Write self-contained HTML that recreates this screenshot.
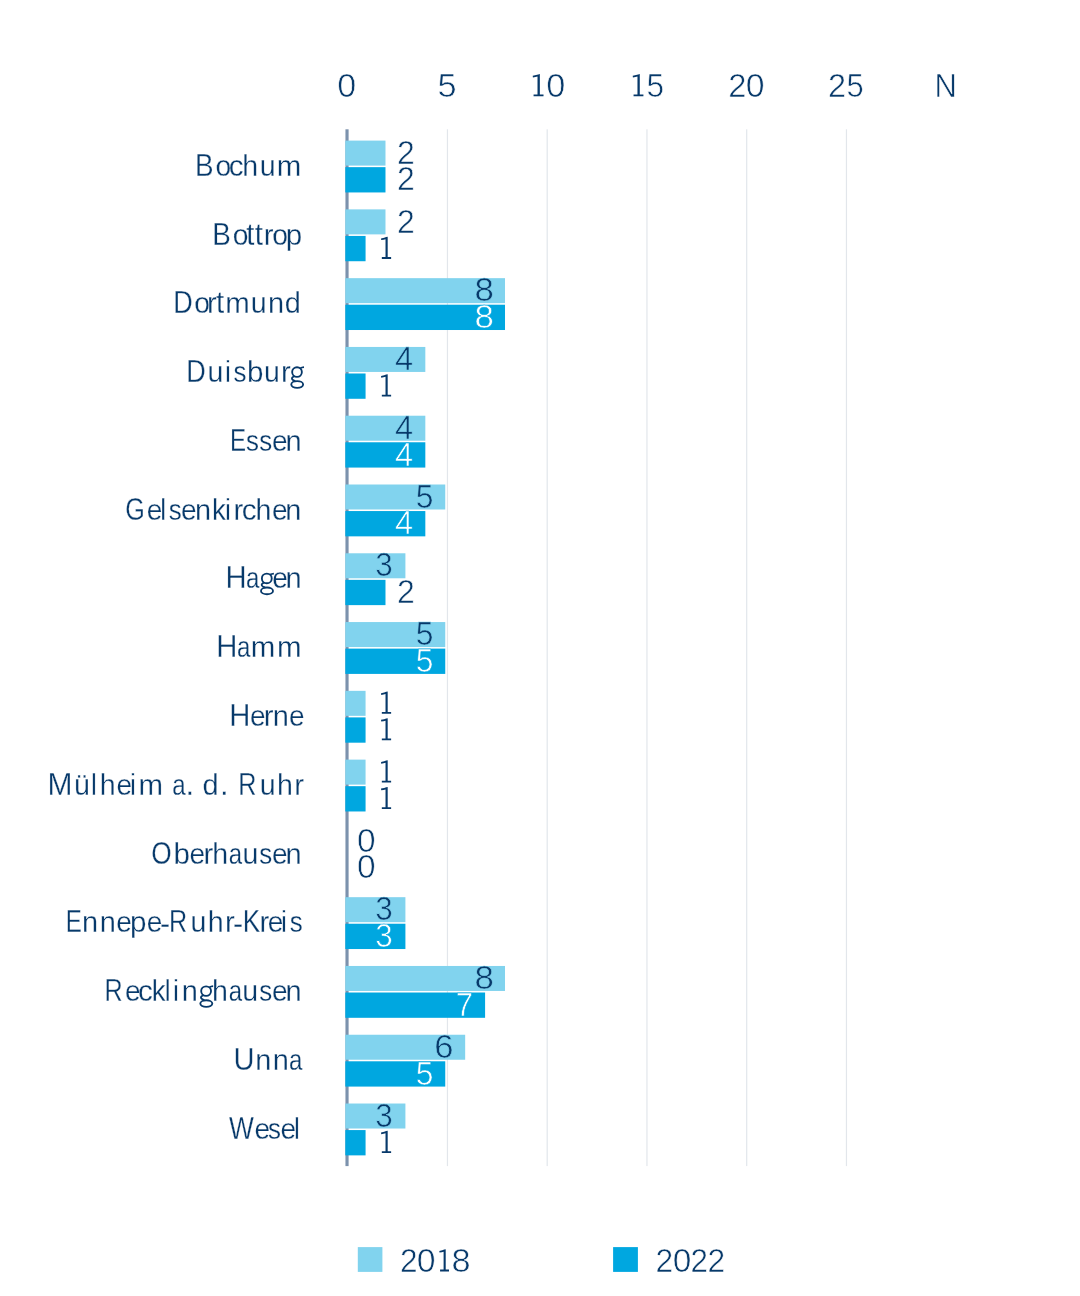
<!DOCTYPE html>
<html><head><meta charset="utf-8"><title>Chart</title>
<style>
html,body{margin:0;padding:0;background:#fff;}
body{width:1080px;height:1296px;overflow:hidden;}
svg{display:block;}
text{font-family:"Liberation Sans",sans-serif;font-kerning:none;paint-order:fill stroke;stroke-linejoin:round;}
</style></head><body>
<svg width="1080" height="1296" viewBox="0 0 1080 1296">
<rect width="1080" height="1296" fill="#ffffff"/>
<rect x="446.85" y="129.3" width="1.2" height="1036.8" fill="#e2e6eb"/>
<rect x="546.60" y="129.3" width="1.2" height="1036.8" fill="#e2e6eb"/>
<rect x="646.35" y="129.3" width="1.2" height="1036.8" fill="#e2e6eb"/>
<rect x="746.10" y="129.3" width="1.2" height="1036.8" fill="#e2e6eb"/>
<rect x="845.85" y="129.3" width="1.2" height="1036.8" fill="#e2e6eb"/>
<rect x="345.45" y="129.3" width="3.15" height="1036.8" fill="#7c92ad"/>
<rect x="345.30" y="140.60" width="40.19" height="25.0" fill="#81d3ee"/>
<rect x="345.30" y="167.15" width="40.19" height="25.3" fill="#00a7e0"/>
<rect x="345.30" y="209.38" width="40.19" height="25.0" fill="#81d3ee"/>
<rect x="345.30" y="235.93" width="20.27" height="25.3" fill="#00a7e0"/>
<rect x="345.30" y="278.16" width="159.71" height="25.0" fill="#81d3ee"/>
<rect x="345.30" y="304.71" width="159.71" height="25.3" fill="#00a7e0"/>
<rect x="345.30" y="346.94" width="80.03" height="25.0" fill="#81d3ee"/>
<rect x="345.30" y="373.49" width="20.27" height="25.3" fill="#00a7e0"/>
<rect x="345.30" y="415.72" width="80.03" height="25.0" fill="#81d3ee"/>
<rect x="345.30" y="442.27" width="80.03" height="25.3" fill="#00a7e0"/>
<rect x="345.30" y="484.50" width="99.95" height="25.0" fill="#81d3ee"/>
<rect x="345.30" y="511.05" width="80.03" height="25.3" fill="#00a7e0"/>
<rect x="345.30" y="553.28" width="60.11" height="25.0" fill="#81d3ee"/>
<rect x="345.30" y="579.83" width="40.19" height="25.3" fill="#00a7e0"/>
<rect x="345.30" y="622.06" width="99.95" height="25.0" fill="#81d3ee"/>
<rect x="345.30" y="648.61" width="99.95" height="25.3" fill="#00a7e0"/>
<rect x="345.30" y="690.84" width="20.27" height="25.0" fill="#81d3ee"/>
<rect x="345.30" y="717.39" width="20.27" height="25.3" fill="#00a7e0"/>
<rect x="345.30" y="759.62" width="20.27" height="25.0" fill="#81d3ee"/>
<rect x="345.30" y="786.17" width="20.27" height="25.3" fill="#00a7e0"/>
<rect x="345.30" y="897.18" width="60.11" height="25.0" fill="#81d3ee"/>
<rect x="345.30" y="923.73" width="60.11" height="25.3" fill="#00a7e0"/>
<rect x="345.30" y="965.96" width="159.71" height="25.0" fill="#81d3ee"/>
<rect x="345.30" y="992.51" width="139.79" height="25.3" fill="#00a7e0"/>
<rect x="345.30" y="1034.74" width="119.87" height="25.0" fill="#81d3ee"/>
<rect x="345.30" y="1061.29" width="99.95" height="25.3" fill="#00a7e0"/>
<rect x="345.30" y="1103.52" width="60.11" height="25.0" fill="#81d3ee"/>
<rect x="345.30" y="1130.07" width="20.27" height="25.3" fill="#00a7e0"/>
<rect x="357.8" y="1247.1" width="24.6" height="24.8" fill="#81d3ee"/>
<rect x="613.1" y="1247.1" width="24.8" height="24.8" fill="#00a7e0"/>
<g opacity="0.999">
<text transform="matrix(0.8681 0 0 1.0 194.89 175.75)" font-size="32.12" fill="#07396a" stroke="#ffffff" stroke-width="0.3">B</text>
<text transform="matrix(0.8812 0 0 0.92 215.43 175.75)" font-size="32.12" fill="#07396a" stroke="#ffffff" stroke-width="0.3">o</text>
<text transform="matrix(0.9236 0 0 0.92 228.74 175.75)" font-size="32.12" fill="#07396a" stroke="#ffffff" stroke-width="0.3">c</text>
<text transform="matrix(0.8885 0 0 0.94 242.25 175.75)" font-size="32.12" fill="#07396a" stroke="#ffffff" stroke-width="0.3">h</text>
<text transform="matrix(0.8879 0 0 0.92 259.84 175.75)" font-size="32.12" fill="#07396a" stroke="#ffffff" stroke-width="0.3">u</text>
<text transform="matrix(0.9171 0 0 0.92 276.67 175.75)" font-size="32.12" fill="#07396a" stroke="#ffffff" stroke-width="0.3">m</text>
<text transform="matrix(0.9801 0 0 1 396.88 163.75)" font-size="32.7" fill="#07396a" stroke="#ffffff" stroke-width="0.6">2</text>
<text transform="matrix(0.9801 0 0 1 396.88 190.40)" font-size="32.7" fill="#07396a" stroke="#ffffff" stroke-width="0.6">2</text>
<text transform="matrix(0.8681 0 0 1.0 212.29 244.53)" font-size="32.12" fill="#07396a" stroke="#ffffff" stroke-width="0.3">B</text>
<text transform="matrix(0.8812 0 0 0.92 232.78 244.53)" font-size="32.12" fill="#07396a" stroke="#ffffff" stroke-width="0.3">o</text>
<text transform="matrix(0.9131 0 0 1.0 246.21 244.53)" font-size="32.12" fill="#07396a" stroke="#ffffff" stroke-width="0.3">t</text>
<text transform="matrix(0.9131 0 0 1.0 254.71 244.53)" font-size="32.12" fill="#07396a" stroke="#ffffff" stroke-width="0.3">t</text>
<text transform="matrix(0.9141 0 0 0.92 263.73 244.53)" font-size="32.12" fill="#07396a" stroke="#ffffff" stroke-width="0.3">r</text>
<text transform="matrix(0.8812 0 0 0.92 272.13 244.53)" font-size="32.12" fill="#07396a" stroke="#ffffff" stroke-width="0.3">o</text>
<text transform="matrix(0.9201 0 0 0.92 285.65 244.53)" font-size="32.12" fill="#07396a" stroke="#ffffff" stroke-width="0.3">p</text>
<text transform="matrix(0.9801 0 0 1 396.88 232.53)" font-size="32.7" fill="#07396a" stroke="#ffffff" stroke-width="0.6">2</text>
<path d="M381.02,238.38 L384.15,237.68 L386.17,236.98 L387.69,236.68 L387.69,257.08 L391.12,257.08 L391.12,258.88 L381.83,258.88 L381.83,257.08 L385.52,257.08 L385.52,239.18 L383.55,239.68 L381.22,240.08Z" fill="#07396a"/>
<text transform="matrix(0.8418 0 0 1.0 173.32 313.31)" font-size="32.12" fill="#07396a" stroke="#ffffff" stroke-width="0.3">D</text>
<text transform="matrix(0.8812 0 0 0.92 194.30 313.31)" font-size="32.12" fill="#07396a" stroke="#ffffff" stroke-width="0.3">o</text>
<text transform="matrix(0.9141 0 0 0.92 206.98 313.31)" font-size="32.12" fill="#07396a" stroke="#ffffff" stroke-width="0.3">r</text>
<text transform="matrix(0.9131 0 0 1.0 215.94 313.31)" font-size="32.12" fill="#07396a" stroke="#ffffff" stroke-width="0.3">t</text>
<text transform="matrix(0.9171 0 0 0.92 225.22 313.31)" font-size="32.12" fill="#07396a" stroke="#ffffff" stroke-width="0.3">m</text>
<text transform="matrix(0.8879 0 0 0.92 250.84 313.31)" font-size="32.12" fill="#07396a" stroke="#ffffff" stroke-width="0.3">u</text>
<text transform="matrix(0.9007 0 0 0.92 267.88 313.31)" font-size="32.12" fill="#07396a" stroke="#ffffff" stroke-width="0.3">n</text>
<text transform="matrix(0.9010 0 0 0.94 284.78 313.31)" font-size="32.12" fill="#07396a" stroke="#ffffff" stroke-width="0.3">d</text>
<text transform="matrix(1.0688 0 0 1 474.49 301.31)" font-size="32.7" fill="#07396a" stroke="#81d3ee" stroke-width="0.6">8</text>
<text transform="matrix(1.0688 0 0 1 474.49 327.96)" font-size="32.7" fill="#ffffff" stroke="#00a7e0" stroke-width="0.6">8</text>
<text transform="matrix(0.8418 0 0 1.0 186.35 382.09)" font-size="32.12" fill="#07396a" stroke="#ffffff" stroke-width="0.3">D</text>
<text transform="matrix(0.8879 0 0 0.92 207.42 382.09)" font-size="32.12" fill="#07396a" stroke="#ffffff" stroke-width="0.3">u</text>
<text transform="matrix(0.8289 0 0 0.94 225.00 382.09)" font-size="32.12" fill="#07396a" stroke="#ffffff" stroke-width="0.3">i</text>
<text transform="matrix(0.8079 0 0 0.92 233.42 382.09)" font-size="32.12" fill="#07396a" stroke="#ffffff" stroke-width="0.3">s</text>
<text transform="matrix(0.9201 0 0 0.94 246.95 382.09)" font-size="32.12" fill="#07396a" stroke="#ffffff" stroke-width="0.3">b</text>
<text transform="matrix(0.8879 0 0 0.92 264.04 382.09)" font-size="32.12" fill="#07396a" stroke="#ffffff" stroke-width="0.3">u</text>
<text transform="matrix(0.9141 0 0 0.92 281.08 382.09)" font-size="32.12" fill="#07396a" stroke="#ffffff" stroke-width="0.3">r</text>
<g fill="none" stroke="#07396a" stroke-linecap="butt"><ellipse cx="297.01" cy="372.09" rx="4.86" ry="4.8" stroke-width="1.85"/><path d="M300.31,368.24 Q301.77,367.34 304.00,367.19" stroke-width="1.7"/><path d="M294.48,376.04 Q291.17,377.64 292.15,379.24 Q292.83,380.44 295.35,381.14" stroke-width="1.8"/><ellipse cx="297.20" cy="384.54" rx="5.93" ry="3.35" stroke-width="1.85"/></g>
<text transform="matrix(0.9953 0 0 1 395.08 370.09)" font-size="32.7" fill="#07396a" stroke="#81d3ee" stroke-width="0.6">4</text>
<path d="M381.02,375.94 L384.15,375.24 L386.17,374.54 L387.69,374.24 L387.69,394.64 L391.12,394.64 L391.12,396.44 L381.83,396.44 L381.83,394.64 L385.52,394.64 L385.52,376.74 L383.55,377.24 L381.22,377.64Z" fill="#07396a"/>
<text transform="matrix(0.7505 0 0 1.0 229.94 450.87)" font-size="32.12" fill="#07396a" stroke="#ffffff" stroke-width="0.3">E</text>
<text transform="matrix(0.8079 0 0 0.92 246.12 450.87)" font-size="32.12" fill="#07396a" stroke="#ffffff" stroke-width="0.3">s</text>
<text transform="matrix(0.8079 0 0 0.92 259.35 450.87)" font-size="32.12" fill="#07396a" stroke="#ffffff" stroke-width="0.3">s</text>
<text transform="matrix(0.8751 0 0 0.92 271.99 450.87)" font-size="32.12" fill="#07396a" stroke="#ffffff" stroke-width="0.3">e</text>
<text transform="matrix(0.9007 0 0 0.92 285.48 450.87)" font-size="32.12" fill="#07396a" stroke="#ffffff" stroke-width="0.3">n</text>
<text transform="matrix(0.9953 0 0 1 395.08 438.87)" font-size="32.7" fill="#07396a" stroke="#81d3ee" stroke-width="0.6">4</text>
<text transform="matrix(0.9953 0 0 1 395.08 465.52)" font-size="32.7" fill="#ffffff" stroke="#00a7e0" stroke-width="0.6">4</text>
<text transform="matrix(0.7840 0 0 1.0 125.31 519.65)" font-size="32.12" fill="#07396a" stroke="#ffffff" stroke-width="0.3">G</text>
<text transform="matrix(0.8751 0 0 0.92 146.66 519.65)" font-size="32.12" fill="#07396a" stroke="#ffffff" stroke-width="0.3">e</text>
<text transform="matrix(0.8200 0 0 0.94 160.17 519.65)" font-size="32.12" fill="#07396a" stroke="#ffffff" stroke-width="0.3">l</text>
<text transform="matrix(0.8079 0 0 0.92 168.77 519.65)" font-size="32.12" fill="#07396a" stroke="#ffffff" stroke-width="0.3">s</text>
<text transform="matrix(0.8751 0 0 0.92 181.06 519.65)" font-size="32.12" fill="#07396a" stroke="#ffffff" stroke-width="0.3">e</text>
<text transform="matrix(0.9007 0 0 0.92 194.98 519.65)" font-size="32.12" fill="#07396a" stroke="#ffffff" stroke-width="0.3">n</text>
<text transform="matrix(0.8635 0 0 0.94 211.89 519.65)" font-size="32.12" fill="#07396a" stroke="#ffffff" stroke-width="0.3">k</text>
<text transform="matrix(0.8289 0 0 0.94 225.10 519.65)" font-size="32.12" fill="#07396a" stroke="#ffffff" stroke-width="0.3">i</text>
<text transform="matrix(0.9141 0 0 0.92 233.53 519.65)" font-size="32.12" fill="#07396a" stroke="#ffffff" stroke-width="0.3">r</text>
<text transform="matrix(0.9236 0 0 0.92 241.82 519.65)" font-size="32.12" fill="#07396a" stroke="#ffffff" stroke-width="0.3">c</text>
<text transform="matrix(0.8885 0 0 0.94 255.45 519.65)" font-size="32.12" fill="#07396a" stroke="#ffffff" stroke-width="0.3">h</text>
<text transform="matrix(0.8751 0 0 0.92 271.94 519.65)" font-size="32.12" fill="#07396a" stroke="#ffffff" stroke-width="0.3">e</text>
<text transform="matrix(0.9007 0 0 0.92 285.28 519.65)" font-size="32.12" fill="#07396a" stroke="#ffffff" stroke-width="0.3">n</text>
<text transform="matrix(0.9740 0 0 1 415.87 507.65)" font-size="32.7" fill="#07396a" stroke="#81d3ee" stroke-width="0.6">5</text>
<text transform="matrix(0.9953 0 0 1 395.08 534.30)" font-size="32.7" fill="#ffffff" stroke="#00a7e0" stroke-width="0.6">4</text>
<text transform="matrix(0.9107 0 0 1.0 225.38 588.43)" font-size="32.12" fill="#07396a" stroke="#ffffff" stroke-width="0.3">H</text>
<text transform="matrix(0.7479 0 0 0.92 245.96 588.43)" font-size="32.12" fill="#07396a" stroke="#ffffff" stroke-width="0.3">a</text>
<g fill="none" stroke="#07396a" stroke-linecap="butt"><ellipse cx="266.80" cy="578.43" rx="4.93" ry="4.8" stroke-width="1.85"/><path d="M270.15,574.58 Q271.63,573.68 273.90,573.53" stroke-width="1.7"/><path d="M264.24,582.38 Q260.89,583.98 261.87,585.58 Q262.56,586.78 265.13,587.48" stroke-width="1.8"/><ellipse cx="267.00" cy="590.88" rx="6.01" ry="3.35" stroke-width="1.85"/></g>
<text transform="matrix(0.8751 0 0 0.92 272.29 588.43)" font-size="32.12" fill="#07396a" stroke="#ffffff" stroke-width="0.3">e</text>
<text transform="matrix(0.9007 0 0 0.92 285.48 588.43)" font-size="32.12" fill="#07396a" stroke="#ffffff" stroke-width="0.3">n</text>
<text transform="matrix(0.9611 0 0 1 375.31 576.43)" font-size="32.7" fill="#07396a" stroke="#81d3ee" stroke-width="0.6">3</text>
<text transform="matrix(0.9801 0 0 1 396.88 603.08)" font-size="32.7" fill="#07396a" stroke="#ffffff" stroke-width="0.6">2</text>
<text transform="matrix(0.9107 0 0 1.0 216.28 657.21)" font-size="32.12" fill="#07396a" stroke="#ffffff" stroke-width="0.3">H</text>
<text transform="matrix(0.7479 0 0 0.92 236.91 657.21)" font-size="32.12" fill="#07396a" stroke="#ffffff" stroke-width="0.3">a</text>
<text transform="matrix(0.9171 0 0 0.92 250.75 657.21)" font-size="32.12" fill="#07396a" stroke="#ffffff" stroke-width="0.3">m</text>
<text transform="matrix(0.9171 0 0 0.92 276.92 657.21)" font-size="32.12" fill="#07396a" stroke="#ffffff" stroke-width="0.3">m</text>
<text transform="matrix(0.9740 0 0 1 415.87 645.21)" font-size="32.7" fill="#07396a" stroke="#81d3ee" stroke-width="0.6">5</text>
<text transform="matrix(0.9740 0 0 1 415.87 671.86)" font-size="32.7" fill="#ffffff" stroke="#00a7e0" stroke-width="0.6">5</text>
<text transform="matrix(0.9107 0 0 1.0 229.28 725.99)" font-size="32.12" fill="#07396a" stroke="#ffffff" stroke-width="0.3">H</text>
<text transform="matrix(0.8751 0 0 0.92 249.94 725.99)" font-size="32.12" fill="#07396a" stroke="#ffffff" stroke-width="0.3">e</text>
<text transform="matrix(0.9141 0 0 0.92 263.83 725.99)" font-size="32.12" fill="#07396a" stroke="#ffffff" stroke-width="0.3">r</text>
<text transform="matrix(0.9007 0 0 0.92 272.83 725.99)" font-size="32.12" fill="#07396a" stroke="#ffffff" stroke-width="0.3">n</text>
<text transform="matrix(0.8751 0 0 0.92 289.06 725.99)" font-size="32.12" fill="#07396a" stroke="#ffffff" stroke-width="0.3">e</text>
<path d="M381.02,693.19 L384.15,692.49 L386.17,691.79 L387.69,691.49 L387.69,711.89 L391.12,711.89 L391.12,713.69 L381.83,713.69 L381.83,711.89 L385.52,711.89 L385.52,693.99 L383.55,694.49 L381.22,694.89Z" fill="#07396a"/>
<path d="M381.02,719.84 L384.15,719.14 L386.17,718.44 L387.69,718.14 L387.69,738.54 L391.12,738.54 L391.12,740.34 L381.83,740.34 L381.83,738.54 L385.52,738.54 L385.52,720.64 L383.55,721.14 L381.22,721.54Z" fill="#07396a"/>
<text transform="matrix(0.9327 0 0 1.0 47.62 794.77)" font-size="32.12" fill="#07396a" stroke="#ffffff" stroke-width="0.3">M</text>
<text transform="matrix(0.8897 0 0 0.92 73.94 794.77)" font-size="32.12" fill="#07396a" stroke="#ffffff" stroke-width="0.3">ü</text>
<text transform="matrix(0.8200 0 0 0.94 91.02 794.77)" font-size="32.12" fill="#07396a" stroke="#ffffff" stroke-width="0.3">l</text>
<text transform="matrix(0.8885 0 0 0.94 99.73 794.77)" font-size="32.12" fill="#07396a" stroke="#ffffff" stroke-width="0.3">h</text>
<text transform="matrix(0.8751 0 0 0.92 116.56 794.77)" font-size="32.12" fill="#07396a" stroke="#ffffff" stroke-width="0.3">e</text>
<text transform="matrix(0.8289 0 0 0.94 130.00 794.77)" font-size="32.12" fill="#07396a" stroke="#ffffff" stroke-width="0.3">i</text>
<text transform="matrix(0.9171 0 0 0.92 138.52 794.77)" font-size="32.12" fill="#07396a" stroke="#ffffff" stroke-width="0.3">m</text>
<text transform="matrix(0.7479 0 0 0.92 172.16 794.77)" font-size="32.12" fill="#07396a" stroke="#ffffff" stroke-width="0.3">a</text>
<text transform="matrix(0.9695 0 0 1.0 185.60 794.77)" font-size="32.12" fill="#07396a" stroke="#ffffff" stroke-width="0.3">.</text>
<text transform="matrix(0.9010 0 0 0.94 202.55 794.77)" font-size="32.12" fill="#07396a" stroke="#ffffff" stroke-width="0.3">d</text>
<text transform="matrix(0.9695 0 0 1.0 219.97 794.77)" font-size="32.12" fill="#07396a" stroke="#ffffff" stroke-width="0.3">.</text>
<text transform="matrix(0.7834 0 0 1.0 238.27 794.77)" font-size="32.12" fill="#07396a" stroke="#ffffff" stroke-width="0.3">R</text>
<text transform="matrix(0.8879 0 0 0.92 259.87 794.77)" font-size="32.12" fill="#07396a" stroke="#ffffff" stroke-width="0.3">u</text>
<text transform="matrix(0.8885 0 0 0.94 277.10 794.77)" font-size="32.12" fill="#07396a" stroke="#ffffff" stroke-width="0.3">h</text>
<text transform="matrix(0.9141 0 0 0.92 294.16 794.77)" font-size="32.12" fill="#07396a" stroke="#ffffff" stroke-width="0.3">r</text>
<path d="M381.02,761.97 L384.15,761.27 L386.17,760.57 L387.69,760.27 L387.69,780.67 L391.12,780.67 L391.12,782.47 L381.83,782.47 L381.83,780.67 L385.52,780.67 L385.52,762.77 L383.55,763.27 L381.22,763.67Z" fill="#07396a"/>
<path d="M381.02,788.62 L384.15,787.92 L386.17,787.22 L387.69,786.92 L387.69,807.32 L391.12,807.32 L391.12,809.12 L381.83,809.12 L381.83,807.32 L385.52,807.32 L385.52,789.42 L383.55,789.92 L381.22,790.32Z" fill="#07396a"/>
<text transform="matrix(0.8182 0 0 1.0 151.24 863.55)" font-size="32.12" fill="#07396a" stroke="#ffffff" stroke-width="0.3">O</text>
<text transform="matrix(0.9201 0 0 0.94 173.60 863.55)" font-size="32.12" fill="#07396a" stroke="#ffffff" stroke-width="0.3">b</text>
<text transform="matrix(0.8751 0 0 0.92 189.51 863.55)" font-size="32.12" fill="#07396a" stroke="#ffffff" stroke-width="0.3">e</text>
<text transform="matrix(0.9141 0 0 0.92 203.43 863.55)" font-size="32.12" fill="#07396a" stroke="#ffffff" stroke-width="0.3">r</text>
<text transform="matrix(0.8885 0 0 0.94 212.13 863.55)" font-size="32.12" fill="#07396a" stroke="#ffffff" stroke-width="0.3">h</text>
<text transform="matrix(0.7479 0 0 0.92 228.81 863.55)" font-size="32.12" fill="#07396a" stroke="#ffffff" stroke-width="0.3">a</text>
<text transform="matrix(0.8879 0 0 0.92 242.44 863.55)" font-size="32.12" fill="#07396a" stroke="#ffffff" stroke-width="0.3">u</text>
<text transform="matrix(0.8079 0 0 0.92 259.32 863.55)" font-size="32.12" fill="#07396a" stroke="#ffffff" stroke-width="0.3">s</text>
<text transform="matrix(0.8751 0 0 0.92 271.94 863.55)" font-size="32.12" fill="#07396a" stroke="#ffffff" stroke-width="0.3">e</text>
<text transform="matrix(0.9007 0 0 0.92 285.38 863.55)" font-size="32.12" fill="#07396a" stroke="#ffffff" stroke-width="0.3">n</text>
<text transform="matrix(1.0236 0 0 1 356.94 851.55)" font-size="32.7" fill="#07396a" stroke="#ffffff" stroke-width="0.6">0</text>
<text transform="matrix(1.0236 0 0 1 356.94 878.20)" font-size="32.7" fill="#07396a" stroke="#ffffff" stroke-width="0.6">0</text>
<text transform="matrix(0.7505 0 0 1.0 65.77 932.33)" font-size="32.12" fill="#07396a" stroke="#ffffff" stroke-width="0.3">E</text>
<text transform="matrix(0.9007 0 0 0.92 82.08 932.33)" font-size="32.12" fill="#07396a" stroke="#ffffff" stroke-width="0.3">n</text>
<text transform="matrix(0.9007 0 0 0.92 99.78 932.33)" font-size="32.12" fill="#07396a" stroke="#ffffff" stroke-width="0.3">n</text>
<text transform="matrix(0.8751 0 0 0.92 116.29 932.33)" font-size="32.12" fill="#07396a" stroke="#ffffff" stroke-width="0.3">e</text>
<text transform="matrix(0.9201 0 0 0.92 130.10 932.33)" font-size="32.12" fill="#07396a" stroke="#ffffff" stroke-width="0.3">p</text>
<text transform="matrix(0.8751 0 0 0.92 146.71 932.33)" font-size="32.12" fill="#07396a" stroke="#ffffff" stroke-width="0.3">e</text>
<text transform="matrix(0.9488 0 0 1.0 159.88 933.58)" font-size="32.12" fill="#07396a" stroke="#ffffff" stroke-width="0.3">-</text>
<text transform="matrix(0.7834 0 0 1.0 169.12 932.33)" font-size="32.12" fill="#07396a" stroke="#ffffff" stroke-width="0.3">R</text>
<text transform="matrix(0.8879 0 0 0.92 190.44 932.33)" font-size="32.12" fill="#07396a" stroke="#ffffff" stroke-width="0.3">u</text>
<text transform="matrix(0.8885 0 0 0.94 207.85 932.33)" font-size="32.12" fill="#07396a" stroke="#ffffff" stroke-width="0.3">h</text>
<text transform="matrix(0.9141 0 0 0.92 224.93 932.33)" font-size="32.12" fill="#07396a" stroke="#ffffff" stroke-width="0.3">r</text>
<text transform="matrix(0.9488 0 0 1.0 233.08 933.58)" font-size="32.12" fill="#07396a" stroke="#ffffff" stroke-width="0.3">-</text>
<text transform="matrix(0.8161 0 0 1.0 242.73 932.33)" font-size="32.12" fill="#07396a" stroke="#ffffff" stroke-width="0.3">K</text>
<text transform="matrix(0.9141 0 0 0.92 259.51 932.33)" font-size="32.12" fill="#07396a" stroke="#ffffff" stroke-width="0.3">r</text>
<text transform="matrix(0.8751 0 0 0.92 267.86 932.33)" font-size="32.12" fill="#07396a" stroke="#ffffff" stroke-width="0.3">e</text>
<text transform="matrix(0.8289 0 0 0.94 281.00 932.33)" font-size="32.12" fill="#07396a" stroke="#ffffff" stroke-width="0.3">i</text>
<text transform="matrix(0.8079 0 0 0.92 289.67 932.33)" font-size="32.12" fill="#07396a" stroke="#ffffff" stroke-width="0.3">s</text>
<text transform="matrix(0.9611 0 0 1 375.31 920.33)" font-size="32.7" fill="#07396a" stroke="#81d3ee" stroke-width="0.6">3</text>
<text transform="matrix(0.9611 0 0 1 375.31 946.98)" font-size="32.7" fill="#ffffff" stroke="#00a7e0" stroke-width="0.6">3</text>
<text transform="matrix(0.7834 0 0 1.0 104.62 1001.11)" font-size="32.12" fill="#07396a" stroke="#ffffff" stroke-width="0.3">R</text>
<text transform="matrix(0.8751 0 0 0.92 124.94 1001.11)" font-size="32.12" fill="#07396a" stroke="#ffffff" stroke-width="0.3">e</text>
<text transform="matrix(0.9236 0 0 0.92 138.09 1001.11)" font-size="32.12" fill="#07396a" stroke="#ffffff" stroke-width="0.3">c</text>
<text transform="matrix(0.8635 0 0 0.94 151.69 1001.11)" font-size="32.12" fill="#07396a" stroke="#ffffff" stroke-width="0.3">k</text>
<text transform="matrix(0.8200 0 0 0.94 164.79 1001.11)" font-size="32.12" fill="#07396a" stroke="#ffffff" stroke-width="0.3">l</text>
<text transform="matrix(0.8289 0 0 0.94 173.10 1001.11)" font-size="32.12" fill="#07396a" stroke="#ffffff" stroke-width="0.3">i</text>
<text transform="matrix(0.9007 0 0 0.92 181.66 1001.11)" font-size="32.12" fill="#07396a" stroke="#ffffff" stroke-width="0.3">n</text>
<g fill="none" stroke="#07396a" stroke-linecap="butt"><ellipse cx="206.10" cy="991.11" rx="4.93" ry="4.8" stroke-width="1.85"/><path d="M209.45,987.26 Q210.93,986.36 213.20,986.21" stroke-width="1.7"/><path d="M203.54,995.06 Q200.19,996.66 201.17,998.26 Q201.86,999.46 204.43,1000.16" stroke-width="1.8"/><ellipse cx="206.30" cy="1003.56" rx="6.01" ry="3.35" stroke-width="1.85"/></g>
<text transform="matrix(0.8885 0 0 0.94 211.90 1001.11)" font-size="32.12" fill="#07396a" stroke="#ffffff" stroke-width="0.3">h</text>
<text transform="matrix(0.7479 0 0 0.92 228.86 1001.11)" font-size="32.12" fill="#07396a" stroke="#ffffff" stroke-width="0.3">a</text>
<text transform="matrix(0.8879 0 0 0.92 242.34 1001.11)" font-size="32.12" fill="#07396a" stroke="#ffffff" stroke-width="0.3">u</text>
<text transform="matrix(0.8079 0 0 0.92 259.27 1001.11)" font-size="32.12" fill="#07396a" stroke="#ffffff" stroke-width="0.3">s</text>
<text transform="matrix(0.8751 0 0 0.92 271.94 1001.11)" font-size="32.12" fill="#07396a" stroke="#ffffff" stroke-width="0.3">e</text>
<text transform="matrix(0.9007 0 0 0.92 285.38 1001.11)" font-size="32.12" fill="#07396a" stroke="#ffffff" stroke-width="0.3">n</text>
<text transform="matrix(1.0688 0 0 1 474.49 989.11)" font-size="32.7" fill="#07396a" stroke="#81d3ee" stroke-width="0.6">8</text>
<text transform="matrix(0.9485 0 0 1 455.70 1015.76)" font-size="32.7" fill="#ffffff" stroke="#00a7e0" stroke-width="0.6">7</text>
<text transform="matrix(0.9068 0 0 1.0 233.53 1069.89)" font-size="32.12" fill="#07396a" stroke="#ffffff" stroke-width="0.3">U</text>
<text transform="matrix(0.9007 0 0 0.92 255.16 1069.89)" font-size="32.12" fill="#07396a" stroke="#ffffff" stroke-width="0.3">n</text>
<text transform="matrix(0.9007 0 0 0.92 272.66 1069.89)" font-size="32.12" fill="#07396a" stroke="#ffffff" stroke-width="0.3">n</text>
<text transform="matrix(0.7479 0 0 0.92 288.96 1069.89)" font-size="32.12" fill="#07396a" stroke="#ffffff" stroke-width="0.3">a</text>
<text transform="matrix(1.0604 0 0 1 434.21 1057.89)" font-size="32.7" fill="#07396a" stroke="#81d3ee" stroke-width="0.6">6</text>
<text transform="matrix(0.9740 0 0 1 415.87 1084.54)" font-size="32.7" fill="#ffffff" stroke="#00a7e0" stroke-width="0.6">5</text>
<text transform="matrix(0.8195 0 0 1.0 229.06 1138.67)" font-size="32.12" fill="#07396a" stroke="#ffffff" stroke-width="0.3">W</text>
<text transform="matrix(0.8751 0 0 0.92 254.44 1138.67)" font-size="32.12" fill="#07396a" stroke="#ffffff" stroke-width="0.3">e</text>
<text transform="matrix(0.8079 0 0 0.92 268.02 1138.67)" font-size="32.12" fill="#07396a" stroke="#ffffff" stroke-width="0.3">s</text>
<text transform="matrix(0.8751 0 0 0.92 280.56 1138.67)" font-size="32.12" fill="#07396a" stroke="#ffffff" stroke-width="0.3">e</text>
<text transform="matrix(0.8200 0 0 0.94 294.12 1138.67)" font-size="32.12" fill="#07396a" stroke="#ffffff" stroke-width="0.3">l</text>
<text transform="matrix(0.9611 0 0 1 375.31 1126.67)" font-size="32.7" fill="#07396a" stroke="#81d3ee" stroke-width="0.6">3</text>
<path d="M381.02,1132.52 L384.15,1131.82 L386.17,1131.12 L387.69,1130.82 L387.69,1151.22 L391.12,1151.22 L391.12,1153.02 L381.83,1153.02 L381.83,1151.22 L385.52,1151.22 L385.52,1133.32 L383.55,1133.82 L381.22,1134.22Z" fill="#07396a"/>
<text transform="matrix(1.0428 0 0 1 337.37 96.60)" font-size="32.7" fill="#07396a" stroke="#ffffff" stroke-width="0.6">0</text>
<text transform="matrix(1.0514 0 0 1 437.62 96.60)" font-size="32.7" fill="#07396a" stroke="#ffffff" stroke-width="0.6">5</text>
<path d="M532.71,75.80 L536.06,75.10 L538.22,74.40 L539.84,74.10 L539.84,94.50 L543.51,94.50 L543.51,96.30 L533.57,96.30 L533.57,94.50 L537.51,94.50 L537.51,76.60 L535.41,77.10 L532.92,77.50Z" fill="#07396a"/>
<text transform="matrix(1.0492 0 0 1 546.26 96.60)" font-size="32.7" fill="#07396a" stroke="#ffffff" stroke-width="0.6">0</text>
<path d="M632.71,75.80 L636.02,75.10 L638.16,74.40 L639.77,74.10 L639.77,94.50 L643.41,94.50 L643.41,96.30 L633.56,96.30 L633.56,94.50 L637.47,94.50 L637.47,76.60 L635.38,77.10 L632.92,77.50Z" fill="#07396a"/>
<text transform="matrix(0.9675 0 0 1 646.53 96.60)" font-size="32.7" fill="#07396a" stroke="#ffffff" stroke-width="0.6">5</text>
<text transform="matrix(1.0002 0 0 1 728.16 96.60)" font-size="32.7" fill="#07396a" stroke="#ffffff" stroke-width="0.6">2</text>
<text transform="matrix(1.0364 0 0 1 745.78 96.60)" font-size="32.7" fill="#07396a" stroke="#ffffff" stroke-width="0.6">0</text>
<text transform="matrix(0.9935 0 0 1 827.97 96.60)" font-size="32.7" fill="#07396a" stroke="#ffffff" stroke-width="0.6">2</text>
<text transform="matrix(0.9482 0 0 1 846.56 96.60)" font-size="32.7" fill="#07396a" stroke="#ffffff" stroke-width="0.6">5</text>
<text transform="matrix(0.9471 0 0 1 934.46 96.60)" font-size="32.7" fill="#07396a" stroke="#ffffff" stroke-width="0.6">N</text>
<text transform="matrix(0.9666 0 0 1 400.11 1271.70)" font-size="32.7" fill="#07396a" stroke="#ffffff" stroke-width="0.6">2</text>
<text transform="matrix(1.0364 0 0 1 416.78 1271.70)" font-size="32.7" fill="#07396a" stroke="#ffffff" stroke-width="0.6">0</text>
<path d="M439.30,1250.90 L442.30,1250.20 L444.24,1249.50 L445.70,1249.20 L445.70,1269.60 L449.00,1269.60 L449.00,1271.40 L440.07,1271.40 L440.07,1269.60 L443.61,1269.60 L443.61,1251.70 L441.72,1252.20 L439.49,1252.60Z" fill="#07396a"/>
<text transform="matrix(1.0493 0 0 1 451.41 1271.70)" font-size="32.7" fill="#07396a" stroke="#ffffff" stroke-width="0.6">8</text>
<text transform="matrix(0.9733 0 0 1 655.50 1271.70)" font-size="32.7" fill="#07396a" stroke="#ffffff" stroke-width="0.6">2</text>
<text transform="matrix(1.0236 0 0 1 672.69 1271.70)" font-size="32.7" fill="#07396a" stroke="#ffffff" stroke-width="0.6">0</text>
<text transform="matrix(0.9599 0 0 1 690.42 1271.70)" font-size="32.7" fill="#07396a" stroke="#ffffff" stroke-width="0.6">2</text>
<text transform="matrix(0.9733 0 0 1 707.40 1271.70)" font-size="32.7" fill="#07396a" stroke="#ffffff" stroke-width="0.6">2</text>
</g>
</svg>
</body></html>
